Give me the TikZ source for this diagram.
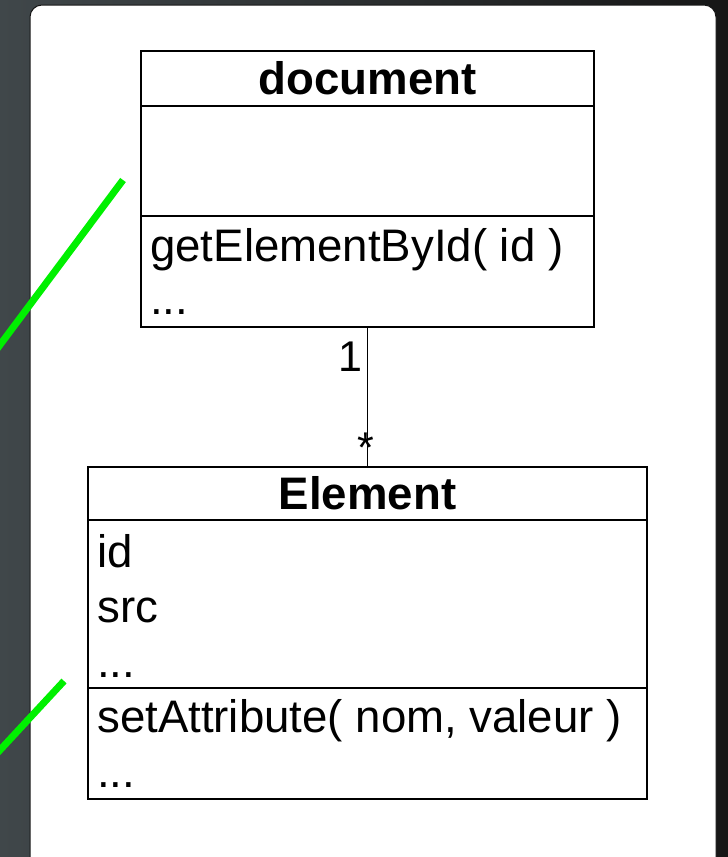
\documentclass[tikz,border=0pt]{standalone}
\usepackage{fontspec}
\setmainfont{Liberation Sans}
\usetikzlibrary{positioning}
\definecolor{slate}{HTML}{40474A}
\definecolor{coal}{HTML}{161616}
\definecolor{limegreen}{HTML}{00F000}

\begin{document}
\begin{tikzpicture}[x=1pt,y=-1pt,
  box/.style={draw, line width=1.2pt, inner sep=0pt, outer sep=0pt, font=\fontsize{45.6}{55}\selectfont\bfseries},
  member/.style={anchor=base west, inner sep=0pt, font=\fontsize{45.6}{55}\selectfont},
  mult/.style={inner sep=0pt, font=\fontsize{43}{50}\selectfont}]

\useasboundingbox (0,0) rectangle (728,857);
\begin{scope}
\clip (0,0) rectangle (728,857);
\shade[left color=slate, right color=coal] (0,0) rectangle (728,857);
\draw[fill=white, draw=coal, line width=1pt, rounded corners=12pt] (30,5) rectangle (716,900);

%stray green strokes on the left
\draw[limegreen, line width=7pt] (123,180)--(-12,361);
\draw[limegreen, line width=7pt] (64,681)--(-12,763);
\end{scope}

% class document
\node[box, minimum width=453pt, minimum height=55pt] (doc-title) at (367.5,78.5) {document};
\node[box, minimum width=453pt, minimum height=110pt, below=0pt of doc-title] (doc-attr) {};
\node[box, minimum width=453pt, minimum height=111pt, below=0pt of doc-attr] (doc-ops) {};
\node[member] (doc-op1) at (150,261) {getElementById( id )};
\node[member] (doc-op2) at (150,314) {...};

% class Element
\node[box, minimum width=559pt, minimum height=53pt] (elem-title) at (367.5,493.5) {Element};
\node[box, minimum width=559pt, minimum height=168pt, below=0pt of elem-title] (elem-attr) {};
\node[box, minimum width=559pt, minimum height=111pt, below=0pt of elem-attr] (elem-ops) {};
\node[member] (elem-at1) at (97,567) {id};
\node[member] (elem-at2) at (97,622) {src};
\node[member] (elem-at3) at (97,677) {...};
\node[member] (elem-op1) at (97,732) {setAttribute( nom, valeur )};
\node[member] (elem-op2) at (97,787) {...};

% association
\draw[line width=1.2pt] (doc-ops.south)--(elem-title.north);
\node[mult, anchor=base east] (mult-doc) at (363,371) {1};
\node[mult] (mult-elem) at (366,448) {*};

\end{tikzpicture}
\end{document}
